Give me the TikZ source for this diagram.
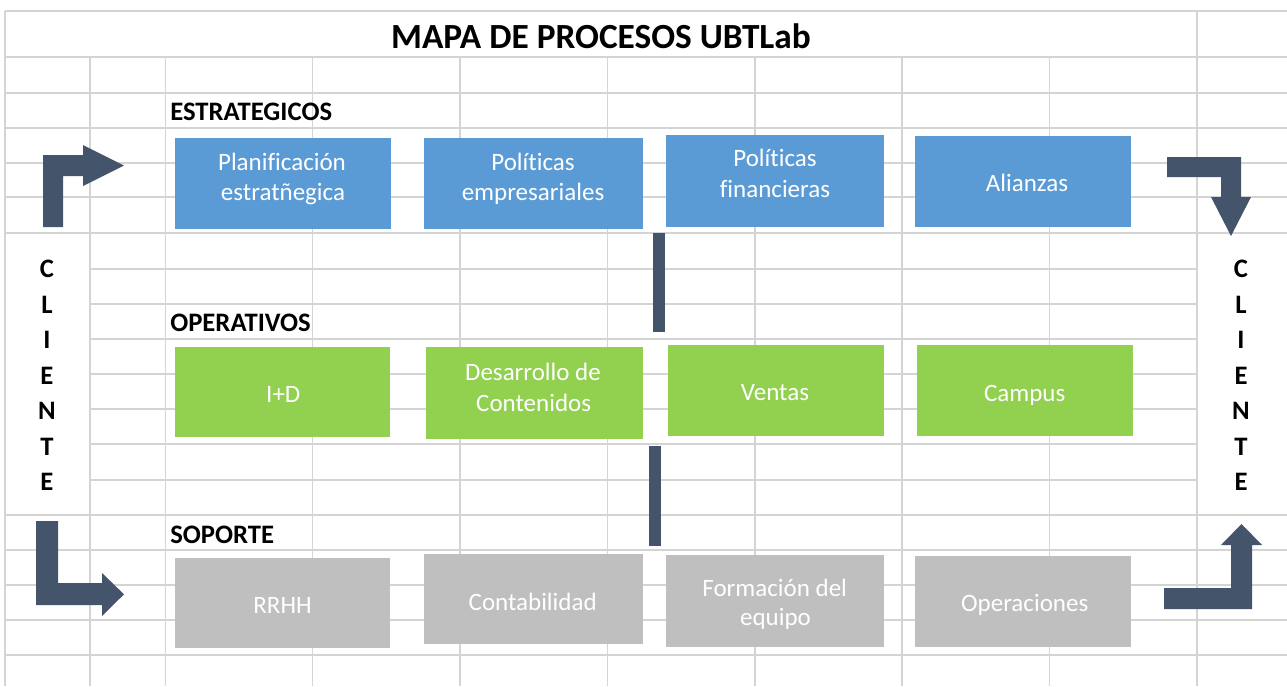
\documentclass[tikz,border=0pt]{standalone}
\usepackage{fontspec}
\setmainfont[Ligatures=NoCommon]{Carlito}
\definecolor{gridc}{HTML}{D4D4D4}
\definecolor{estc}{HTML}{5B9BD5}
\definecolor{opec}{HTML}{92D050}
\definecolor{sopc}{HTML}{BFBFBF}
\definecolor{darkc}{HTML}{44546A}
\tikzset{
  gridline/.style={draw=gridc, line width=1.1pt},
  procbox/.style={rectangle, inner sep=0pt},
  bsize/.style 2 args={minimum width=#1*0.75pt, minimum height=#2*0.75pt},
  estbox/.style={procbox, fill=estc},
  opebox/.style={procbox, fill=opec},
  sopbox/.style={procbox, fill=sopc},
  boxtext/.style={anchor=base, inner sep=0pt, text=white, font=\fontsize{18.75}{22.5}\selectfont},
  seclabel/.style={anchor=west, inner sep=0pt, font=\fontsize{20}{24}\selectfont\bfseries},
  clientlabel/.style={inner sep=0pt, align=center, font=\fontsize{20}{26.6}\selectfont\bfseries},
  bentarrow/.style={fill=darkc},
  barline/.style={fill=darkc}
}
\begin{document}
\begin{tikzpicture}[x=0.75pt, y=-0.75pt]
\useasboundingbox (0,0) rectangle (1287,686);
\fill[white] (0,0) rectangle (1287,686);
% grid: horizontal
\foreach \yy in {11,57,93,128,163,197,233,515,550,585,620,655}
  \draw[gridline] (5,\yy) -- (1287,\yy);
\foreach \yy in {269,304,339,374,409,444,480}
  \draw[gridline] (90,\yy) -- (1197,\yy);
% grid: vertical
\draw[gridline] (5,11) -- (5,686);
\draw[gridline] (1197,11) -- (1197,686);
\foreach \xx in {90,165.7,312.7,460,607.7,755,902,1049.7}
  \draw[gridline] (\xx,57) -- (\xx,686);
% title
\node[inner sep=0pt, font=\fontsize{26.5}{30}\selectfont\bfseries] (title) at (601,36) {MAPA DE PROCESOS UBTLab};
% section labels
\node[seclabel] (est) at (170,112) {ESTRATEGICOS};
\node[seclabel] (ope) at (170,323) {OPERATIVOS};
\node[seclabel] (sop) at (170,535) {SOPORTE};
% cliente
\node[clientlabel] (cliL) at (47,375.5) {C\\L\\I\\E\\N\\T\\E};
\node[clientlabel] (cliR) at (1241,375.5) {C\\L\\I\\E\\N\\T\\E};
% strategic boxes
\node[estbox, bsize={216}{91}] (e1) at (283,183.5) {};
\node[estbox, bsize={219}{91}] (e2) at (533.5,183.5) {};
\node[estbox, bsize={218}{92}] (e3) at (775,181) {};
\node[estbox, bsize={216}{91}] (e4) at (1023,181.5) {};
\node[boxtext] (e1a) at (282,170) {Planificación};
\node[boxtext] (e1b) at (283,200) {estratñegica};
\node[boxtext] (e2a) at (533,170) {Políticas};
\node[boxtext] (e2b) at (533,200) {empresariales};
\node[boxtext] (e3a) at (775,166.7) {Políticas};
\node[boxtext] (e3b) at (775,197.3) {financieras};
\node[boxtext] (e4a) at (1027,191) {Alianzas};
% operative boxes
\node[opebox, bsize={215}{90}] (o1) at (282.5,392) {};
\node[opebox, bsize={217}{92}] (o2) at (534.5,393) {};
\node[opebox, bsize={216}{91}] (o3) at (776,390.5) {};
\node[opebox, bsize={216}{91}] (o4) at (1025,390.5) {};
\node[boxtext] (o1a) at (283.3,402.3) {I+D};
\node[boxtext] (o2a) at (533,380) {Desarrollo de};
\node[boxtext] (o2b) at (533.7,411.7) {Contenidos};
\node[boxtext] (o3a) at (775,400) {Ventas};
\node[boxtext] (o4a) at (1024.7,401.5) {Campus};
% support boxes
\node[sopbox, bsize={215}{90}] (s1) at (282.5,603) {};
\node[sopbox, bsize={219}{90}] (s2) at (533.5,599) {};
\node[sopbox, bsize={218}{92}] (s3) at (775,601) {};
\node[sopbox, bsize={216}{91}] (s4) at (1023,601.5) {};
\node[boxtext] (s1a) at (282.5,613.3) {RRHH};
\node[boxtext] (s2a) at (532.7,610) {Contabilidad};
\node[boxtext] (s3a) at (774.7,596) {Formación del};
\node[boxtext] (s3b) at (775.5,625) {equipo};
\node[boxtext] (s4a) at (1024.7,611.7) {Operaciones};
% vertical bars
\fill[barline] (653,233) rectangle (665,332);
\fill[barline] (649,446) rectangle (661,546);
% bent arrows
\fill[bentarrow] (43,227) -- (43,155) -- (83,155) -- (83,145) -- (124,165.5) -- (83,186) -- (83,176) -- (63,176) -- (63,227) -- cycle;
\fill[bentarrow] (1167,157) -- (1241,157) -- (1241,197) -- (1251,197) -- (1231,236) -- (1211,197) -- (1221,197) -- (1221,177) -- (1167,177) -- cycle;
\fill[bentarrow] (36,521) -- (58,521) -- (58,583) -- (102,583) -- (102,573) -- (124,594.3) -- (102,616) -- (102,605) -- (36,605) -- cycle;
\fill[bentarrow] (1164,609) -- (1164,588) -- (1231,588) -- (1231,545) -- (1221,545) -- (1241.5,524) -- (1262,545) -- (1252,545) -- (1252,609) -- cycle;
\end{tikzpicture}
\end{document}
